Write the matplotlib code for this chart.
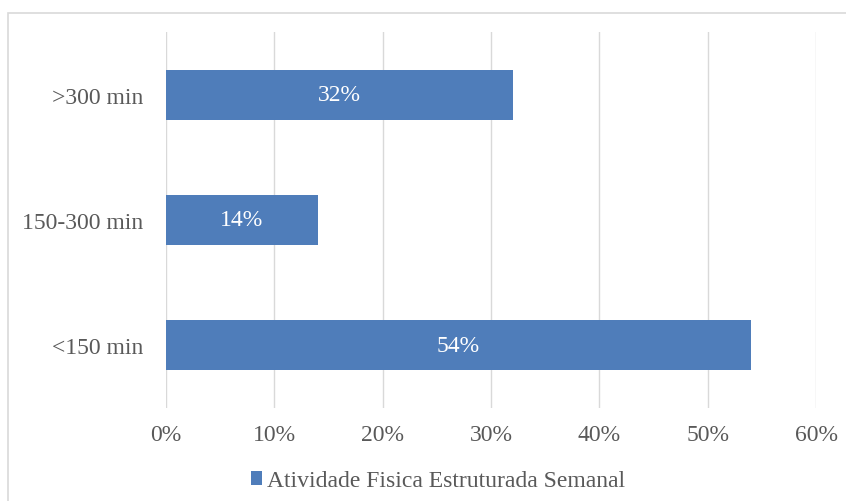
import matplotlib.pyplot as plt
from matplotlib.patches import Rectangle
from matplotlib.ticker import FuncFormatter

categories = ["<150 min", "150-300 min", ">300 min"]
values = [54, 14, 32]
series_name = "Atividade Fisica Estruturada Semanal"

bar_color = "#4F7DBA"
text_gray = "#595959"

plt.rcParams["font.family"] = ["Liberation Serif", "DejaVu Serif"]

fig = plt.figure(figsize=(8.46, 5.02), dpi=100)
# moldura clara do grafico (sai da imagem a direita e em baixo)
fig.patches.append(Rectangle((8 / 846, -0.1), 1.1, 1 - 13.5 / 502 + 0.1,
                             transform=fig.transFigure, fill=False,
                             edgecolor="#D9D9D9", linewidth=1.2))

ax = fig.add_axes([166 / 846, 1 - 409 / 502, 650 / 846, 376 / 502])
bars = ax.barh(range(len(categories)), values, height=0.4, color=bar_color,
               label=series_name, zorder=3)

ax.set_xlim(0, 60)
ax.set_ylim(-0.5, len(categories) - 0.5)
ax.set_xticks(range(0, 61, 10))
ax.xaxis.set_major_formatter(FuncFormatter(lambda v, p: f"{v:.0f}%"))
ax.set_yticks(range(len(categories)))
ax.set_yticklabels(categories)

ax.grid(axis="x", color="#D9D9D9", linewidth=1, zorder=0)
for s in ax.spines.values():
    s.set_visible(False)
ax.tick_params(axis="both", length=0, labelsize=17, labelcolor=text_gray)
ax.tick_params(axis="y", pad=16.5)
ax.tick_params(axis="x", pad=11.5)

for b, v in zip(bars, values):
    ax.text(b.get_width() / 2, b.get_y() + b.get_height() / 2, f"{v}%",
            ha="center", va="center", color="white", fontsize=17, zorder=4)

fig.legend(loc="center", bbox_to_anchor=(438 / 846, 1 - 482 / 502),
           frameon=False, fontsize=17, labelcolor=text_gray,
           handlelength=0.5, handleheight=0.5, handletextpad=0.2)

fig.savefig("out.png", dpi=100)
